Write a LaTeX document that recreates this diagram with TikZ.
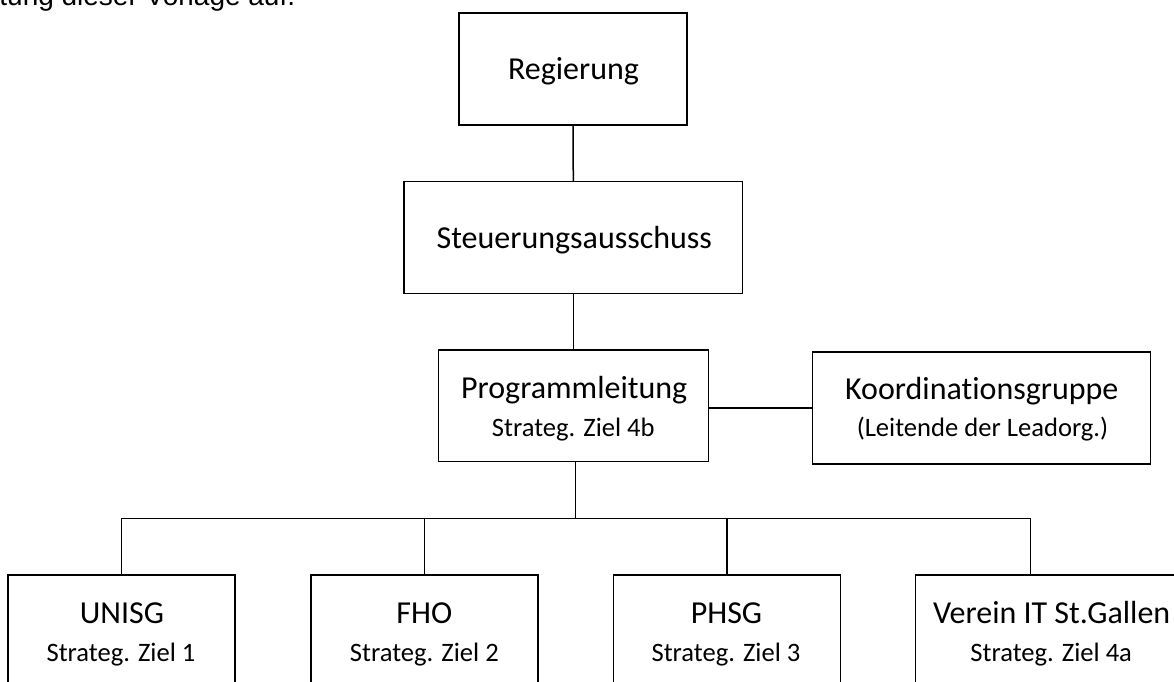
\documentclass[tikz,border=0pt]{standalone}
\usepackage{fontspec}
\setmainfont[Ligatures={NoCommon}]{Carlito}
\newfontfamily\arialfont{Liberation Sans}
\begin{document}
\begin{tikzpicture}[x=1pt,y=-1pt,
  box/.style={draw=black, line width=1.5pt, inner sep=0pt, minimum height=112pt},
  big/.style={font=\fontsize{32}{32}\selectfont, inner sep=0pt, anchor=base},
  small/.style={font=\fontsize{26.6}{26.6}\selectfont, inner sep=0pt, anchor=base},
  toptext/.style={font=\arialfont\fontsize{28}{28}\selectfont, inner sep=0pt, anchor=base west},
  link/.style={draw=black, line width=1.5pt}]
\useasboundingbox (0,0) rectangle (1174,681);
\clip (0,0) rectangle (1174,681);

\node[toptext] (top) at (-0.8,5) {tung dieser Vorlage auf.};

% boxes
\node[box, minimum width=228pt, minimum height=112pt] (reg) at (573,69) {};
\node[box, minimum width=338.7pt, minimum height=111.6pt] (steu) at (573.3,237.5) {};
\node[box, minimum width=270pt, minimum height=111.7pt] (prog) at (573.3,405.8) {};
\node[box, minimum width=338.4pt, minimum height=112pt] (koord) at (981.5,408) {};
\node[box, minimum width=227pt] (unisg) at (121.5,631) {};
\node[box, minimum width=226.7pt] (fho) at (424.4,631) {};
\node[box, minimum width=227pt] (phsg) at (726.8,631) {};
\node[box, minimum width=270pt] (verein) at (1050.7,631) {};

% texts
\node[big] (regT) at (573.5,79.5) {Regierung};
\node[big] (steuT) at (574.3,248) {Steuerungsausschuss};
\node[big] (progT) at (574.2,398) {Programmleitung};
\node[small] (progS) at (573.3,436.7) {Strateg. Ziel 4b};
\node[big] (koordT) at (981.8,399) {Koordinationsgruppe};
\node[small] (koordS) at (982.5,436.7) {(Leitende der Leadorg.)};
\node[big] (unisgT) at (122,623.3) {UNISG};
\node[small] (unisgS) at (121,661.7) {Strateg. Ziel 1};
\node[big] (fhoT) at (424.4,623.3) {FHO};
\node[small] (fhoS) at (424.4,661.7) {Strateg. Ziel 2};
\node[big] (phsgT) at (726.5,623.3) {PHSG};
\node[small] (phsgS) at (726,661.7) {Strateg. Ziel 3};
\node[big] (vereinT) at (1051.7,623.3) {Verein IT St.Gallen};
\node[small] (vereinS) at (1051.2,661.7) {Strateg. Ziel 4a};

% connectors
\coordinate (busL) at (121.7,518.3);
\coordinate (busR) at (1030.7,518.3);
\coordinate (busM) at (575.7,518.3);
\path[link] (reg.south) -- (steu.north);
\path[link] (steu.south) -- (prog.north);
\path[link] (koord.west -| prog.east) -- (koord.west);
\path[link] (prog.south -| busM) -- (busM);
\path[link] (busL) -- (busR);
\path[link] (unisg.north -| busL) -- (busL);
\path[link] (fho.north) -- (fho.north |- busL);
\path[link] (phsg.north) -- (phsg.north |- busL);
\path[link] (verein.north -| busR) -- (busR);
\end{tikzpicture}
\end{document}
